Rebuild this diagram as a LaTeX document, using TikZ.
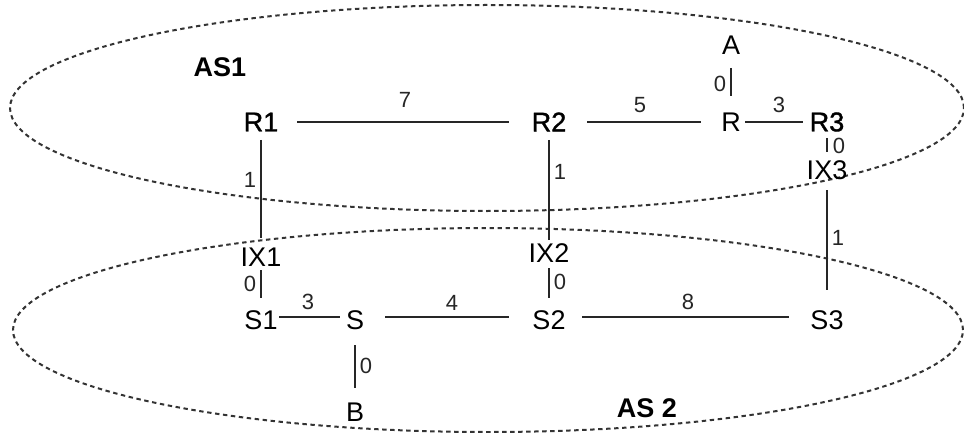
\documentclass[tikz,border=0pt]{standalone}
\usepackage{fontspec}
\setmainfont{Liberation Sans}
\newfontfamily\semibfont[FakeBold=1.4]{Liberation Sans}
\begin{document}
\begin{tikzpicture}[x=0.5pt,y=-0.5pt,
  rnode/.style={inner sep=0pt,font=\fontsize{13.5}{16}\selectfont},
  bnode/.style={inner sep=0pt,font=\semibfont\fontsize{13.5}{16}\selectfont},
  asname/.style={inner sep=0pt,font=\fontsize{13.5}{16}\selectfont\bfseries},
  lbl/.style={inner sep=1pt,font=\fontsize{11}{13}\selectfont},
  link/.style={line width=0.9pt,black!85},
  region/.style={line width=1pt,black!80,dash pattern=on 2.2pt off 1.8pt}]
\useasboundingbox (0,0) rectangle (964,433);
% regions
\draw[region] (487,108) ellipse [x radius=238.5pt, y radius=51.5pt];
\draw[region] (488,330) ellipse [x radius=237.5pt, y radius=51pt];
% nodes
\node[asname] (AS1) at (220,67) {AS1};
\node[asname] (AS2) at (647,408) {AS 2};
\node[bnode] (R1) at (261,122) {R1};
\node[bnode] (R2) at (549,122) {R2};
\node[rnode] (R) at (731,122) {R};
\node[bnode] (R3) at (827,122) {R3};
\node[rnode] (A) at (731,45) {A};
\node[rnode] (IX1) at (261,257) {IX1};
\node[rnode] (IX2) at (549,253) {IX2};
\node[rnode] (IX3) at (827,170) {IX3};
\node[rnode] (S1) at (261,320) {S1};
\node[rnode] (S) at (355,320) {S};
\node[rnode] (S2) at (549,320) {S2};
\node[rnode] (S3) at (827,320) {S3};
\node[rnode] (B) at (355,412) {B};
% links
\draw[link,shorten <=18pt,shorten >=20pt] (R1.center) -- (R2.center) node[lbl,midway,above=6pt]{7};
\draw[link,shorten <=19pt,shorten >=15pt] (R2.center) -- (R.center) node[lbl,midway,above=3pt]{5};
\draw[link,shorten <=7pt,shorten >=12pt] (R.center) -- (R3.center) node[lbl,midway,above=3pt]{3};
\draw[link,shorten <=11.5pt,shorten >=13pt] (A.center) -- (R.center) node[lbl,midway,left=1pt]{0};
\draw[link,shorten <=8pt,shorten >=9pt] (R3.center) -- (IX3.center) node[lbl,midway,right=1.5pt]{0};
\draw[link,shorten <=10pt,shorten >=15pt] (IX3.center) -- (S3.center) node[lbl,pos=0.45,right=1pt]{1};
\draw[link,shorten <=9pt,shorten >=9.5pt] (R1.center) -- (IX1.center) node[lbl,pos=0.43,left=1pt]{1};
\draw[link,shorten <=9pt,shorten >=6.5pt] (R2.center) -- (IX2.center) node[lbl,pos=0.38,right=1pt]{1};
\draw[link,shorten <=6.5pt,shorten >=11pt] (IX1.center) -- (S1.center) node[lbl,pos=0.42,left=1pt]{0};
\draw[link,shorten <=7.5pt,shorten >=11pt] (IX2.center) -- (S2.center) node[lbl,pos=0.43,right=1pt]{0};
\draw[link,shorten <=9pt,shorten >=7.5pt] ([yshift=1.5pt]S1.center) -- ([yshift=1.5pt]S.center) node[lbl,midway,above=2pt]{3};
\draw[link,shorten <=15pt,shorten >=20pt] ([yshift=1.5pt]S.center) -- ([yshift=1.5pt]S2.center) node[lbl,midway,above=2pt]{4};
\draw[link,shorten <=16.5pt,shorten >=19pt] ([yshift=1.5pt]S2.center) -- ([yshift=1.5pt]S3.center) node[lbl,midway,above=2pt]{8};
\draw[link,shorten <=12.5pt,shorten >=12pt] (S.center) -- (B.center) node[lbl,midway,right=1pt]{0};
\end{tikzpicture}
\end{document}
